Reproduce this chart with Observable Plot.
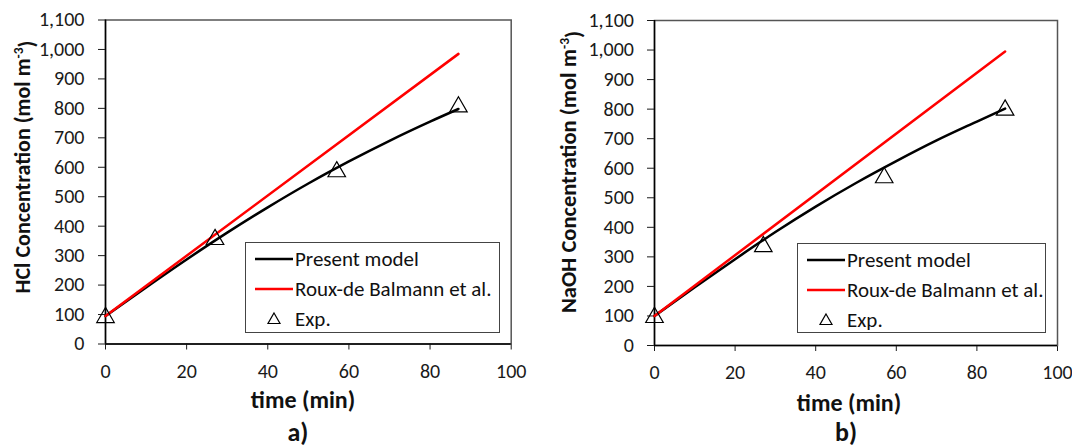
<!DOCTYPE html>
<html><head><meta charset="utf-8">
<script src="https://cdn.jsdelivr.net/npm/d3@7"></script>
<script src="https://cdn.jsdelivr.net/npm/@observablehq/plot@0.6"></script>
<style>
body{margin:0;background:#fff;}
#wrap{position:relative;width:1072px;height:447px;overflow:hidden;font-family:Carlito,Lato,sans-serif;color:#111;}
.panel{position:absolute;top:0;}
.legend{position:absolute;border:1.5px solid #444;box-sizing:border-box;background:#fff;}
.item{position:absolute;left:0;font-size:21px;line-height:1;white-space:nowrap;}
.item svg{position:absolute;left:0;top:0;overflow:visible;}
.item span{position:absolute;transform:translateY(-50%);}
</style>
</head><body>
<div id="wrap"></div>
<script>
// ---- data ----
const xTicks = [0, 20, 40, 60, 80, 100];
const yTicks = [0, 100, 200, 300, 400, 500, 600, 700, 800, 900, 1000, 1100];
const seriesNames = ["Present model", "Roux-de Balmann et al.", "Exp."];
const panelTags = ["a)", "b)"];
const yTitles = ["HCl Concentration (mol m", "NaOH Concentration (mol m"];
const xTitle = "time (min)";

const modelTime = [0, 10, 20, 30, 40, 50, 60, 70, 80, 87];
const hclPresent = [95, 192, 287, 378, 464, 545, 620, 690, 755, 798];
const naohPresent = [100, 197, 292, 384, 470, 550, 624, 694, 758, 802];

const rouxTime = [0, 87];
const hclRoux = [95, 985];
const naohRoux = [100, 995];

const expTime = [0, 27, 57, 87];
const hclExp = [90, 355, 585, 805];
const naohExp = [95, 335, 568, 797];

const panels = [
  {left: 0, present: hclPresent, roux: hclRoux, exp: hclExp, mL: 105, mR: 25.3, mT: 19.5, mB: 103.5, yPad: 14, xPad: 13.3,
   yt: {x: 30, y: 167, size: 22}, xt: {x: 303, y: 408}, tag: {x: 298, y: 441},
   leg: {x: 245, y: 242, w: 255, h: 91}},
  {left: 536, present: naohPresent, roux: naohRoux, exp: naohExp, mL: 118, mR: 15, mT: 20, mB: 102, yPad: 13.5, xPad: 13.3,
   yt: {x: 40, y: 172, size: 22.5}, xt: {x: 313, y: 411}, tag: {x: 310, y: 441},
   leg: {x: 797, y: 243, w: 249, h: 90}}
];

const wrap = document.getElementById("wrap");
const font = "Carlito, Lato, sans-serif";

panels.forEach((p, i) => {
  const modelData = modelTime.map((t, k) => ({t, c: p.present[k]}));
  const rouxData = rouxTime.map((t, k) => ({t, c: p.roux[k]}));
  const expData = expTime.map((t, k) => ({t, c: p.exp[k]}));
  const chart = Plot.plot({
    width: 536, height: 447,
    marginLeft: p.mL, marginRight: p.mR, marginTop: p.mT, marginBottom: p.mB,
    x: {domain: [0, 100], ticks: xTicks, tickSize: 6, tickPadding: p.xPad, label: null},
    y: {domain: [0, 1100], ticks: yTicks, tickFormat: d3.format(","), tickSize: 7, tickPadding: p.yPad, label: null},
    style: {fontFamily: font, fontSize: "20px", color: "#1a1a1a", background: "transparent", overflow: "visible"},
    marks: [
      Plot.frame({stroke: "#555", strokeWidth: 1.5}),
      Plot.ruleX([0], {stroke: "#000", strokeWidth: 1.5}),
      Plot.ruleY([0], {stroke: "#000", strokeWidth: 1.5}),
      Plot.line(modelData, {x: "t", y: "c", stroke: "#000", strokeWidth: 2.5, curve: "monotone-x"}),
      Plot.line(rouxData, {x: "t", y: "c", stroke: "#ff0000", strokeWidth: 2.5}),
      Plot.dot(expData, {x: "t", y: "c", symbol: "triangle", r: 6.5, stroke: "#000", fill: "none", strokeWidth: 1.2})
    ]
  });
  chart.classList.add("panel");
  chart.style.left = p.left + "px";
  wrap.appendChild(chart);

  const svg = d3.select(chart);
  const yt = svg.append("text")
    .attr("transform", `translate(${p.yt.x},${p.yt.y}) rotate(-90)`)
    .attr("text-anchor", "middle")
    .attr("font-family", font).attr("font-weight", "bold").attr("font-size", p.yt.size).attr("fill", "#111");
  yt.append("tspan").text(yTitles[i]);
  yt.append("tspan").attr("dy", "-0.5em").attr("font-size", 13.5).text("-3");
  yt.append("tspan").attr("dy", "0.5em").text(")");
  svg.append("text")
    .attr("x", p.xt.x).attr("y", p.xt.y)
    .attr("text-anchor", "middle")
    .attr("font-family", font).attr("font-weight", "bold").attr("font-size", 24).attr("fill", "#111")
    .text(xTitle);
  svg.append("text")
    .attr("x", p.tag.x).attr("y", p.tag.y)
    .attr("text-anchor", "middle")
    .attr("font-family", font).attr("font-weight", "bold").attr("font-size", 26).attr("fill", "#111")
    .text(panelTags[i]);

  const lg = document.createElement("div");
  lg.className = "legend";
  Object.assign(lg.style, {left: p.leg.x + "px", top: p.leg.y + "px", width: p.leg.w + "px", height: p.leg.h + "px"});
  const rows = [16, 46, 76];
  rows.forEach((ry, k) => {
    const it = document.createElement("div");
    it.className = "item";
    it.style.top = ry + "px";
    let sw;
    if (k < 2) {
      sw = `<svg width="1" height="1"><line x1="9" x2="47" y1="0" y2="0" stroke="${k === 0 ? "#000" : "#ff0000"}" stroke-width="2.5"/></svg>`;
    } else {
      sw = `<svg width="1" height="1"><path d="M28,-6 L34,4.5 L22,4.5 Z" fill="none" stroke="#000" stroke-width="1.2"/></svg>`;
    }
    it.innerHTML = sw + `<span style="left:49px">${seriesNames[k]}</span>`;
    lg.appendChild(it);
  });
  wrap.appendChild(lg);
});
</script>
</body></html>
